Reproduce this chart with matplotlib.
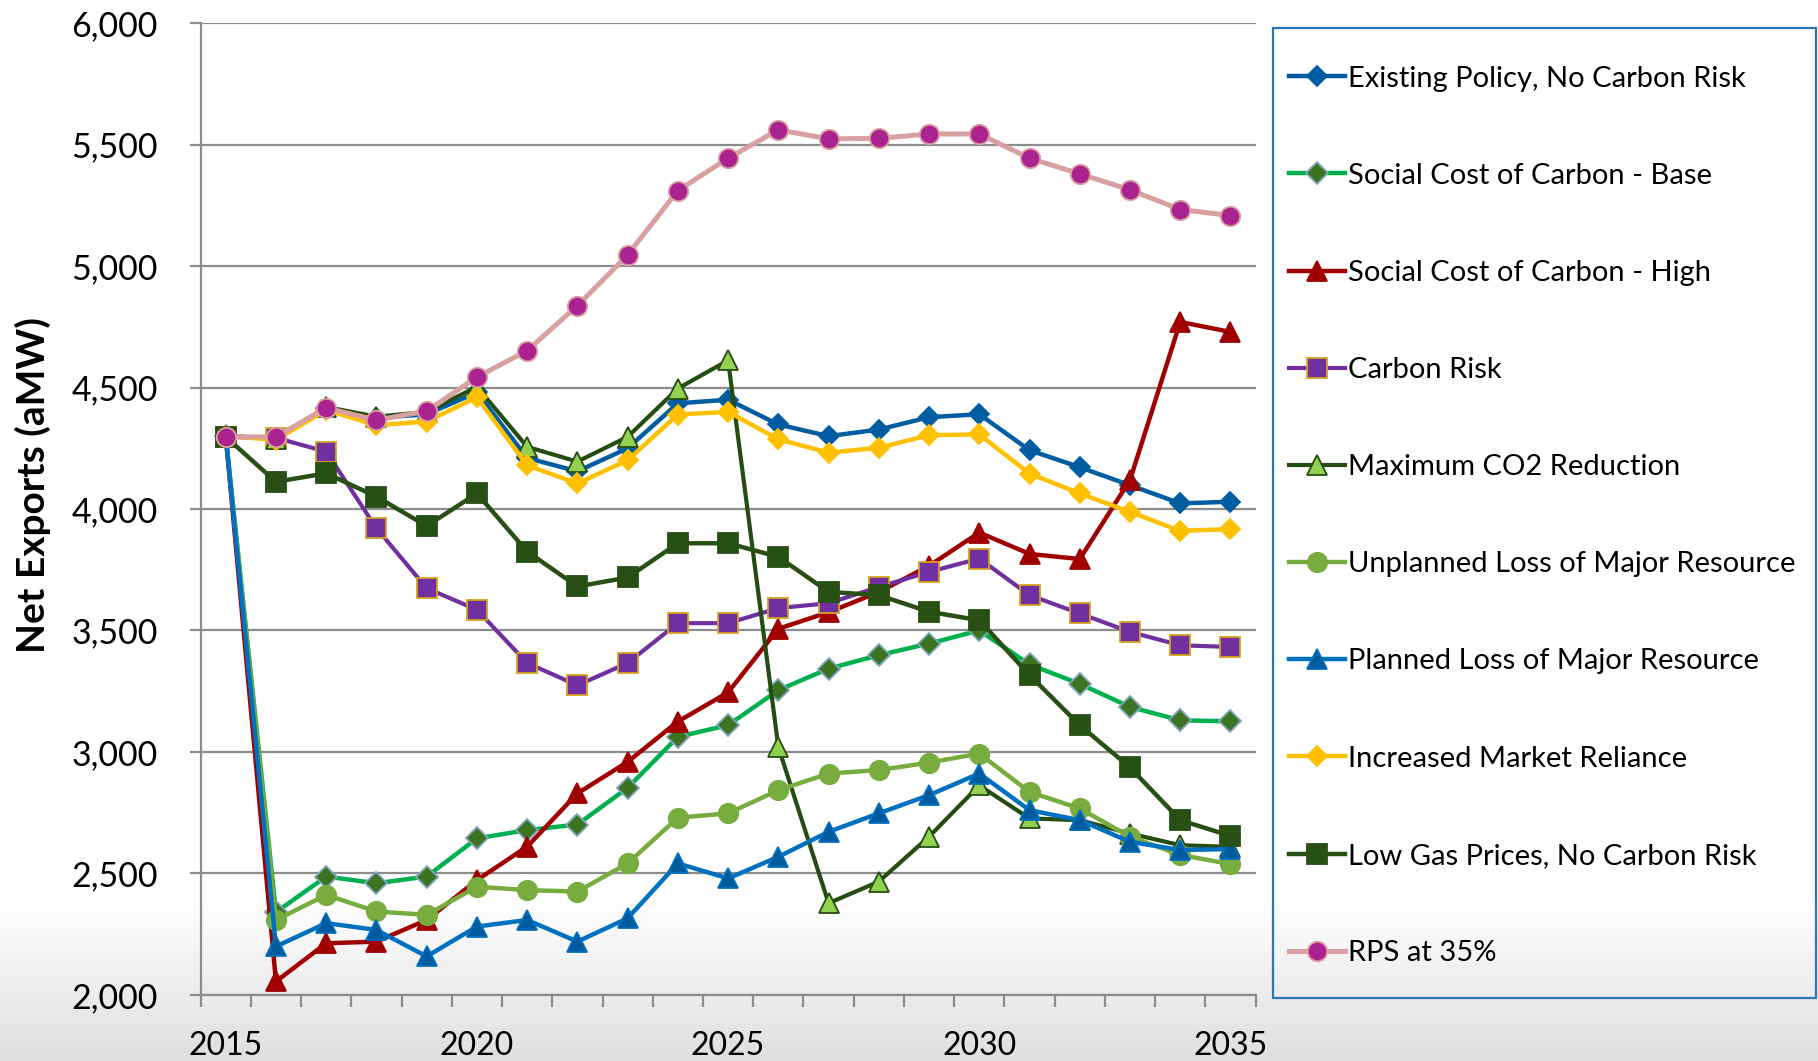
import matplotlib
matplotlib.use('Agg')
import matplotlib.pyplot as plt
import numpy as np
from matplotlib.patches import Rectangle
from matplotlib.ticker import FixedLocator, FixedFormatter, NullFormatter

plt.rcParams['font.family'] = ['Lato', 'DejaVu Sans']

years = list(range(2015, 2036))
label_years = [2015, 2020, 2025, 2030, 2035]
y_ticks = [2000, 2500, 3000, 3500, 4000, 4500, 5000, 5500, 6000]

names = [
    'Existing Policy, No Carbon Risk',
    'Social Cost of Carbon - Base',
    'Social Cost of Carbon - High',
    'Carbon Risk',
    'Maximum CO2 Reduction',
    'Unplanned Loss of Major Resource',
    'Planned Loss of Major Resource',
    'Increased Market Reliance',
    'Low Gas Prices, No Carbon Risk',
    'RPS at 35%',
]

existing = [4300, 4290, 4415, 4375, 4390, 4480, 4210, 4155, 4250, 4435, 4450,
            4348, 4300, 4327, 4378, 4390, 4242, 4172, 4098, 4023, 4030]
scc_base = [4300, 2340, 2487, 2459, 2487, 2644, 2678, 2701, 2852, 3062, 3110,
            3254, 3343, 3398, 3446, 3500, 3360, 3280, 3185, 3130, 3126]
scc_high = [4300, 2055, 2212, 2219, 2308, 2472, 2610, 2829, 2959, 3125, 3245,
            3507, 3575, 3658, 3766, 3903, 3815, 3794, 4119, 4770, 4729]
carbon_risk = [4297, 4293, 4236, 3921, 3674, 3585, 3366, 3274, 3366, 3530, 3530,
               3592, 3612, 3679, 3741, 3796, 3645, 3570, 3494, 3439, 3432]
max_co2 = [4300, 4290, 4420, 4380, 4400, 4503, 4256, 4195, 4297, 4496, 4612,
           3020, 2377, 2466, 2651, 2862, 2726, 2719, 2664, 2616, 2609]
unplanned = [4300, 2308, 2411, 2343, 2329, 2445, 2431, 2425, 2541, 2729, 2747,
             2842, 2911, 2925, 2956, 2993, 2835, 2767, 2651, 2576, 2538]
planned = [4300, 2199, 2295, 2267, 2158, 2281, 2308, 2219, 2315, 2541, 2479,
           2568, 2671, 2747, 2822, 2911, 2760, 2719, 2630, 2596, 2600]
market = [4300, 4285, 4407, 4345, 4360, 4460, 4180, 4105, 4201, 4389, 4400,
          4287, 4232, 4252, 4304, 4307, 4146, 4064, 3988, 3910, 3917]
low_gas = [4297, 4112, 4147, 4051, 3930, 4064, 3825, 3681, 3718, 3859, 3859,
           3803, 3659, 3645, 3577, 3542, 3316, 3110, 2936, 2719, 2654]
rps = [4297, 4297, 4416, 4366, 4403, 4543, 4652, 4837, 5046, 5311, 5444,
       5561, 5524, 5526, 5544, 5544, 5444, 5380, 5314, 5233, 5208]

values = [existing, scc_base, scc_high, carbon_risk, max_co2,
          unplanned, planned, market, low_gas, rps]

# line colour, marker, size, face, edge, line width
styles = [
    ('#005DA2', 'D', 10, '#005DA2', '#005DA2', 3.2),
    ('#00B050', 'D', 11.5, '#3B7321', '#7FA6BC', 3.2),
    ('#A00000', '^', 14, '#A00000', '#A00000', 3.2),
    ('#7030A0', 's', 14, '#7030A0', '#D6A21D', 3.0),
    ('#254D11', '^', 14, '#92D050', '#254D11', 3.0),
    ('#78AC3E', 'o', 14, '#78AC3E', '#78AC3E', 3.2),
    ('#0070C0', '^', 15, '#005A9E', '#0070C0', 3.2),
    ('#FFC000', 'D', 10, '#FFC000', '#FFC000', 3.2),
    ('#284F14', 's', 14, '#284F14', '#284F14', 3.2),
    ('#D9A0A0', 'o', 14, '#AA2390', '#D9A0A0', 3.6),
]

W, H = 1818, 1061
fig = plt.figure(figsize=(W / 100, H / 100), dpi=100)
fig.patch.set_facecolor('white')

# slide background: white fading to light grey at the bottom
bg = fig.add_axes([0, 0, 1, 1], zorder=0)
rows = np.arange(H)
shade = np.where(rows < 895, 1.0, 1.0 - (rows - 895) / (H - 895) * 0.13)
bg.imshow(shade.reshape(-1, 1), cmap='gray', vmin=0, vmax=1,
          aspect='auto', extent=[0, 1, 0, 1])
bg.axis('off')

ax = fig.add_axes([200.6 / W, 1 - 994.8 / H, 1055 / W, 971.6 / H], zorder=1)
ax.set_facecolor('none')

x = np.arange(len(years))
for name, vals, st in zip(names, values, styles):
    lc, mk, ms, fc, ec, lw = st
    ax.plot(x, vals, color=lc, lw=lw, marker=mk, markersize=ms,
            markerfacecolor=fc, markeredgecolor=ec, markeredgewidth=1.3,
            label=name, clip_on=False)

ax.set_xlim(-0.5, len(years) - 0.5)
ax.set_ylim(2000, 6000)

ax.yaxis.set_major_locator(FixedLocator(y_ticks))
ax.yaxis.set_major_formatter(FixedFormatter([f'{v:,}' for v in y_ticks]))
ax.grid(axis='y', color='#8C8C8C', lw=1.6)
ax.set_axisbelow(True)

major_x = [years.index(y) for y in label_years]
ax.xaxis.set_major_locator(FixedLocator(major_x))
ax.xaxis.set_major_formatter(FixedFormatter([str(y) for y in label_years]))
ax.xaxis.set_minor_locator(FixedLocator(np.arange(-0.5, len(years), 1.0)))
ax.xaxis.set_minor_formatter(NullFormatter())

ax.tick_params(axis='x', which='major', length=0, pad=26, labelsize=23)
ax.tick_params(axis='x', which='minor', length=8.5, width=1.6, color='#8C8C8C',
               direction='out')
ax.tick_params(axis='y', length=8, width=1.6, color='#8C8C8C', pad=23,
               labelsize=24.5)

for s in ['top', 'right']:
    ax.spines[s].set_visible(False)
for s in ['left', 'bottom']:
    ax.spines[s].set_color('#8C8C8C')
    ax.spines[s].set_linewidth(1.6)

fig.text(33 / W, 1 - 485 / H, 'Net Exports (aMW)', rotation=90,
         fontsize=28, fontweight='bold', ha='center', va='center')

# legend box
fig.add_artist(Rectangle((1272.5 / W, 1 - 998 / H), (1816 - 1272.5) / W,
                         (998 - 28.4) / H, transform=fig.transFigure,
                         fill=False, edgecolor='#2E75B6', lw=1.6, zorder=3))
fig.legend(ax.get_lines(), names, loc='upper left',
           bbox_to_anchor=(1289 / W, 1 - 65.5 / H), frameon=False, fontsize=21,
           handlelength=1.92, handletextpad=0.12, labelspacing=2.44,
           borderpad=0, borderaxespad=0, numpoints=1)

fig.savefig('out.png', dpi=100)
